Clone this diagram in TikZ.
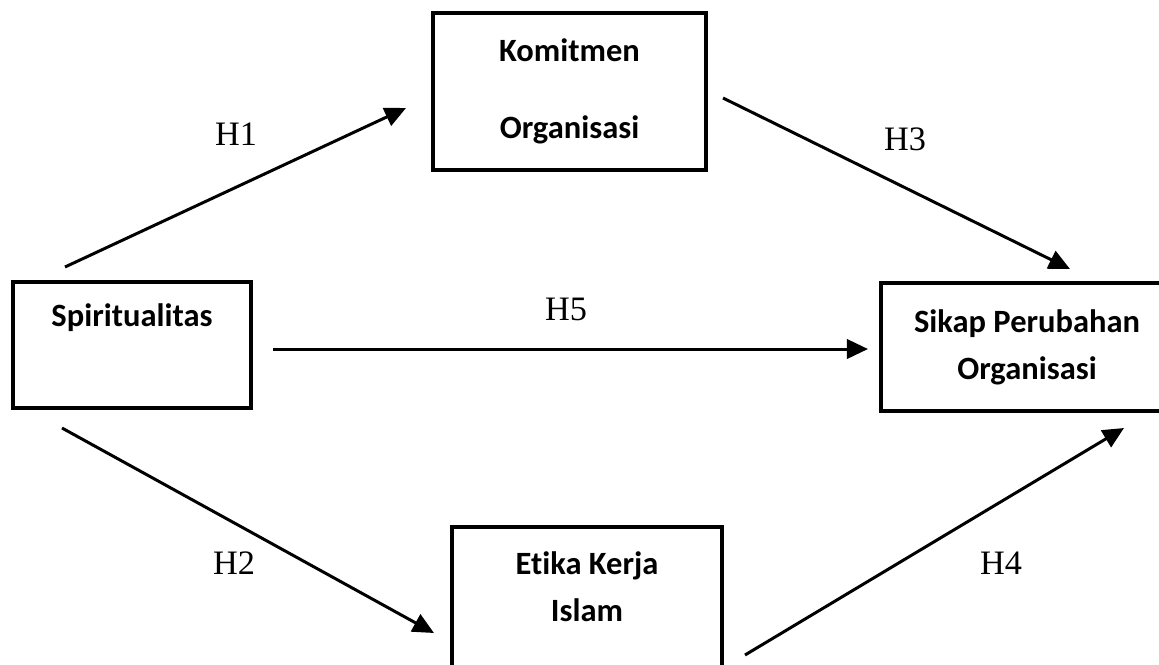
\documentclass[tikz,border=0pt]{standalone}
\usepackage{fontspec}
\setmainfont{Liberation Serif}
\newfontfamily\calibri[Ligatures=NoCommon]{Carlito}
\usetikzlibrary{arrows.meta}

\begin{document}
\begin{tikzpicture}[x=0.02cm, y=-0.02cm, >={Triangle[length=12pt,width=11pt]}, line width=1.7pt]
		\tikzstyle{box}=[draw=black, line width=1.9pt, fill=white, align=center, font=\calibri\bfseries\fontsize{18.5}{26.6}\selectfont]
		\tikzstyle{hyp}=[font=\fontsize{19.5}{22}\selectfont]

		\useasboundingbox (0,0) rectangle (1159,664);

		% Draw variables
		\node[box, minimum width=5.46cm, minimum height=3.14cm] (komitmen) at (569.5,91.5) {Komitmen\\[17.6pt]Organisasi};
		\node[box, minimum width=4.76cm, minimum height=2.52cm] (spirit) at (132,345) {Spiritualitas\\[7pt]\mbox{}};
		\node[box, minimum width=5.84cm, minimum height=2.56cm] (sikap) at (1027,347) {Sikap Perubahan\\Organisasi};
		\node[box, minimum width=5.4cm, minimum height=3.32cm] (etika) at (587,610) {Etika Kerja\\Islam\\ \mbox{}};

		% Draw arrow ends
		\coordinate (h1a) at (65,267);   \coordinate (h1b) at (406,108);
		\coordinate (h3a) at (723,98);   \coordinate (h3b) at (1070,269);
		\coordinate (h5a) at (273,349);  \coordinate (h5b) at (868,349);
		\coordinate (h2a) at (62,428);   \coordinate (h2b) at (434,633);
		\coordinate (h4a) at (745,655);  \coordinate (h4b) at (1124,428);

		% Draw arrows
		\path[->] (h1a) edge (h1b);
		\path[->] (h3a) edge (h3b);
		\path[->] (h5a) edge (h5b);
		\path[->] (h2a) edge (h2b);
		\path[->] (h4a) edge (h4b);

		% Draw hypotheses
		\node[hyp] (h1) at (236,134) {H1};
		\node[hyp] (h3) at (905,139) {H3};
		\node[hyp] (h5) at (566,309) {H5};
		\node[hyp] (h2) at (234,563) {H2};
		\node[hyp] (h4) at (1001,563) {H4};

		\end{tikzpicture}
\end{document}
